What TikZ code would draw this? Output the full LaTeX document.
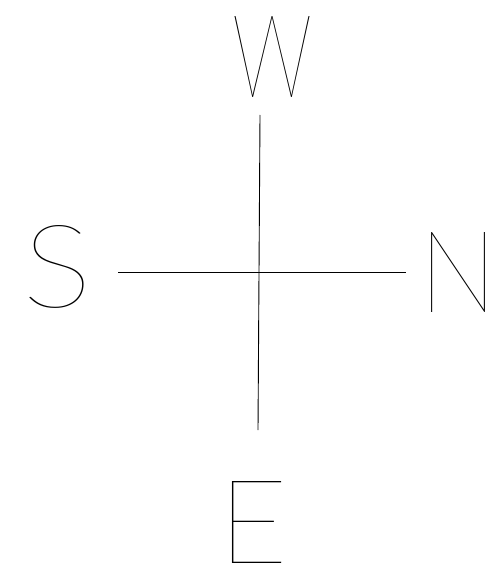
\documentclass[tikz,border=0pt]{standalone}
\usepackage{fontspec}
\usepackage{graphicx}
\IfFontExistsTF{Lato Hairline}{\newfontfamily\thinfont{Lato Hairline}}{%
  \IfFontExistsTF{DejaVu Sans ExtraLight}{\newfontfamily\thinfont{DejaVu Sans ExtraLight}}{%
    \newcommand\thinfont{\sffamily}}}
\tikzset{
  letter/.style={inner sep=0pt, outer sep=0pt, font=\thinfont\fontsize{100}{100}\selectfont},
  crossline/.style={line width=0.9pt, black}
}
\begin{document}
\begin{tikzpicture}[x=1pt, y=-1pt]
\useasboundingbox (0,0) rectangle (492,572);
\node[letter] (W) at (272,57.5) {\resizebox{80pt}{81pt}{W}};
\node[letter] (S) at (58,267) {\resizebox{70pt}{82pt}{S}};
\node[letter] (N) at (458,272) {\resizebox{78pt}{80pt}{N}};
\node[letter] (E) at (253.5,522) {\resizebox{70pt}{82pt}{E}};
\coordinate (top) at (260,115);
\coordinate (bottom) at (258,430);
\coordinate (left) at (118,272);
\coordinate (right) at (406,272);
\draw[crossline] (top) -- (bottom);
\draw[crossline] (left) -- (right);
\end{tikzpicture}
\end{document}
